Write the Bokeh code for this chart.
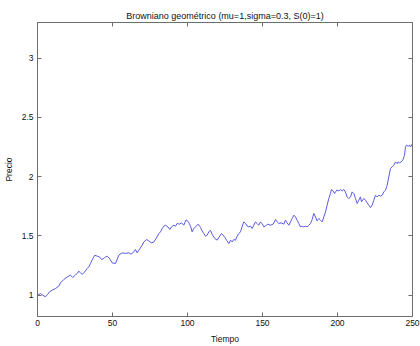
from bokeh.plotting import figure
from bokeh.models import LinearAxis, FixedTicker, CustomJSTickFormatter, Range1d
from bokeh.embed import file_html
from bokeh.resources import INLINE

title_text = "Browniano geométrico (mu=1,sigma=0.3, S(0)=1)"
x_label = "Tiempo"
y_label = "Precio"
x_ticks = [0, 50, 100, 150, 200, 250]
y_ticks = [1, 1.5, 2, 2.5, 3]

tiempo = [0, 2, 3.5, 5.3, 6.7, 8, 9.8, 12, 14.2, 15.3, 17.5, 19.8, 22, 23.5, 25.3, 26.5,
          27.5, 28.7, 29.8, 31.5, 33.1, 34.2, 35.3, 36.9, 38.2, 39.8, 41.3, 42.7, 44.2,
          45.3, 46.5, 48, 49.8, 52, 54.2, 56.4, 58.7, 60.9, 62.4, 64.2, 65.3, 66.4, 67.6,
          69.8, 70.9, 72.7, 74.2, 75.8, 77.6, 79.1, 80.9, 82, 83.1, 84.2, 85.3, 86.9, 88.2,
          89.3, 90.9, 92, 93.1, 94.7, 96, 97.5, 99, 100.4, 101.3, 102, 103.1, 104.2, 105.3,
          107.1, 108.7, 109.8, 110.9, 112, 113.1, 114.2, 115.3, 116.4, 118.2, 119.8, 120.9,
          122.7, 123.8, 124.9, 126, 127.6, 128.7, 129.8, 130.9, 132, 133.1, 134.2, 135.3,
          136.4, 137.5, 138.7, 139.8, 140.9, 142, 143.1, 144.2, 145.3, 146.4, 147.5, 148.7,
          149.8, 150.9, 152, 153.5, 155.3, 157.1, 158.7, 159.8, 160.9, 162.4, 164.2, 165.3,
          166.4, 167.6, 168.7, 169.8, 170.9, 172, 173.1, 174.2, 175.3, 176.4, 177.5, 178.7,
          179.8, 180.9, 182, 183.1, 184.2, 185.3, 186.4, 187.5, 188.7, 189.8, 190.9, 192,
          193.1, 194.2, 195.3, 196, 197.1, 198, 198.7, 199.6, 200.9, 202, 203.1, 204.2,
          205.3, 206.4, 207.5, 208.7, 209.8, 210.9, 212, 213.1, 214.2, 215.3, 216, 217.5,
          218.7, 219.8, 220.9, 222, 223.1, 224.2, 225.3, 226.4, 227.5, 228.7, 229.8, 230.9,
          232, 233.1, 234.2, 235.3, 236.4, 237.5, 238.7, 239.8, 240.4, 241.3, 242.5, 243.5,
          244.7, 245.3, 246, 247.1, 248, 248.7, 250]

precio = [1.0, 1.014, 1.0, 0.986, 1.006, 1.028, 1.042, 1.056, 1.076, 1.104, 1.132, 1.154,
          1.169, 1.149, 1.171, 1.183, 1.202, 1.188, 1.177, 1.196, 1.225, 1.239, 1.267, 1.309,
          1.337, 1.329, 1.323, 1.301, 1.309, 1.323, 1.329, 1.309, 1.272, 1.267, 1.337, 1.357,
          1.352, 1.357, 1.346, 1.365, 1.385, 1.357, 1.379, 1.422, 1.449, 1.469, 1.458, 1.441,
          1.449, 1.478, 1.52, 1.534, 1.562, 1.582, 1.59, 1.576, 1.554, 1.576, 1.59, 1.582,
          1.605, 1.599, 1.61, 1.59, 1.635, 1.622, 1.602, 1.582, 1.534, 1.562, 1.576, 1.599,
          1.571, 1.542, 1.52, 1.497, 1.506, 1.534, 1.548, 1.514, 1.478, 1.464, 1.487, 1.52,
          1.506, 1.487, 1.464, 1.436, 1.464, 1.449, 1.47, 1.464, 1.497, 1.52, 1.534, 1.576,
          1.618, 1.605, 1.582, 1.576, 1.582, 1.562, 1.59, 1.618, 1.605, 1.59, 1.618, 1.602,
          1.576, 1.585, 1.599, 1.59, 1.599, 1.638, 1.618, 1.605, 1.61, 1.599, 1.632, 1.61,
          1.59, 1.618, 1.647, 1.675, 1.66, 1.632, 1.605, 1.576, 1.582, 1.576, 1.582, 1.576,
          1.59, 1.605, 1.638, 1.689, 1.66, 1.627, 1.647, 1.632, 1.618, 1.66, 1.702, 1.759,
          1.815, 1.857, 1.891, 1.879, 1.857, 1.871, 1.887, 1.879, 1.891, 1.879, 1.891, 1.871,
          1.829, 1.815, 1.829, 1.871, 1.857, 1.815, 1.773, 1.801, 1.829, 1.787, 1.815, 1.801,
          1.778, 1.759, 1.739, 1.759, 1.801, 1.843, 1.829, 1.843, 1.835, 1.843, 1.871, 1.885,
          1.927, 1.997, 2.068, 2.082, 2.096, 2.124, 2.11, 2.124, 2.116, 2.124, 2.138, 2.18,
          2.25, 2.265, 2.256, 2.265, 2.25, 2.279]

FONT = "Liberation Sans"
AX_COLOR = "#6e6e6e"
TXT_COLOR = "#111111"

p = figure(width=420, height=346, output_backend="svg", toolbar_location=None,
           x_range=Range1d(0, 250), y_range=Range1d(0.82, 3.3),
           min_border_left=0, min_border_right=8, min_border_top=22, min_border_bottom=30,
           background_fill_color="white", border_fill_color="white")
p.title.text = title_text
p.title.align = "center"
p.title.text_font = FONT
p.title.text_font_size = "9px"
p.title.text_font_style = "normal"
p.title.text_color = TXT_COLOR
p.title.standoff = 4

p.line(tiempo, precio, line_color="#5a5ae0", line_width=1)

p.grid.visible = False
p.outline_line_color = AX_COLOR
p.outline_line_width = 1

fmt = CustomJSTickFormatter(code="return String(Math.round(tick*10)/10);")
blank = CustomJSTickFormatter(code="return '';")

for ax in (p.xaxis[0], p.yaxis[0]):
    ax.axis_line_color = AX_COLOR
    ax.major_tick_line_color = AX_COLOR
    ax.major_tick_in = 4
    ax.major_tick_out = 0
    ax.minor_tick_line_color = None
    ax.major_label_text_font = FONT
    ax.major_label_text_font_size = "8.5px"
    ax.major_label_text_color = TXT_COLOR
    ax.axis_label_text_font = FONT
    ax.axis_label_text_font_size = "8.5px"
    ax.axis_label_text_font_style = "normal"
    ax.axis_label_text_color = TXT_COLOR
    ax.formatter = fmt

p.xaxis[0].ticker = FixedTicker(ticks=x_ticks)
p.yaxis[0].ticker = FixedTicker(ticks=y_ticks)
p.xaxis[0].axis_label = x_label
p.yaxis[0].axis_label = y_label
p.xaxis[0].major_label_standoff = 3
p.xaxis[0].axis_label_standoff = 5
p.yaxis[0].major_label_standoff = 4
p.yaxis[0].axis_label_standoff = 5

top = LinearAxis(ticker=FixedTicker(ticks=x_ticks), formatter=blank)
right = LinearAxis(ticker=FixedTicker(ticks=y_ticks), formatter=blank)
for ax in (top, right):
    ax.axis_line_color = AX_COLOR
    ax.major_tick_line_color = AX_COLOR
    ax.major_tick_in = 4
    ax.major_tick_out = 0
    ax.minor_tick_line_color = None
    ax.major_label_standoff = 0
p.add_layout(top, "above")
p.add_layout(right, "right")

open("out.html", "w").write(file_html(p, INLINE))
